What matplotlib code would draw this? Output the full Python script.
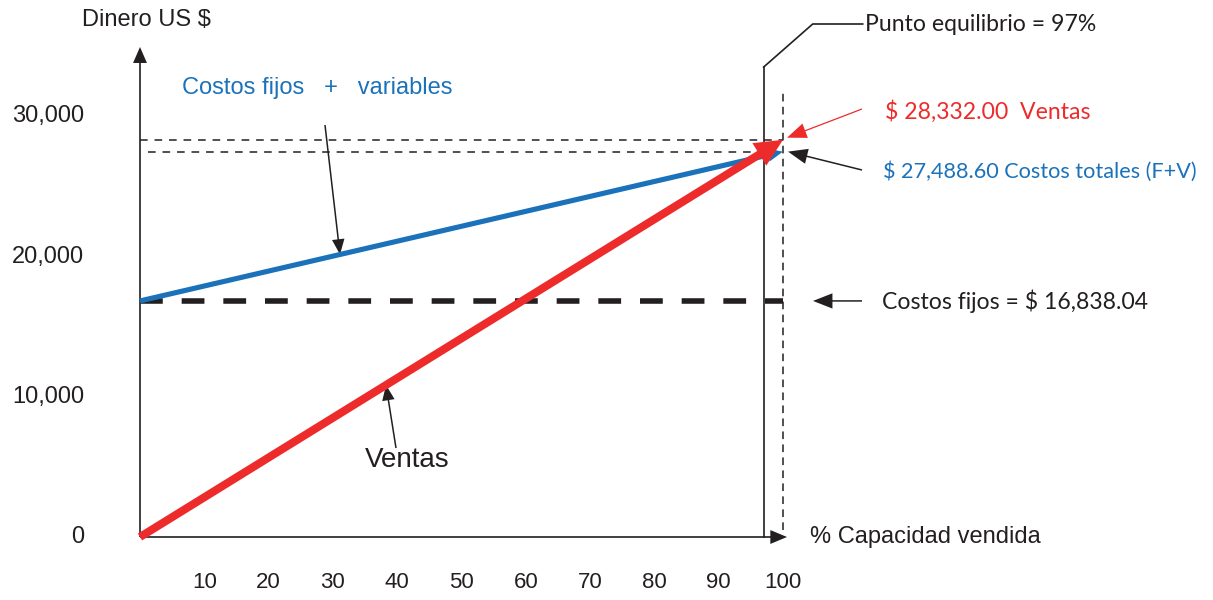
import numpy as np
import matplotlib
matplotlib.use("Agg")
import matplotlib.pyplot as plt
from matplotlib.patches import FancyArrowPatch

# ================= DATA =================
capacidad = [0, 100]                      # % capacidad vendida
ventas = [0.0, 28332.00]                  # US $
costos_totales = [16838.04, 27488.60]     # fijos + variables
costos_fijos = 16838.04
punto_equilibrio = 97                     # %

y_ticks = [0, 10000, 20000, 30000]
y_tick_labels = ["0", "10,000", "20,000", "30,000"]
x_ticks = [10, 20, 30, 40, 50, 60, 70, 80, 90, 100]

# ================= CANVAS =================
W, H = 1213, 600
X0, Y0 = 140, 537            # pixel position of the origin
PX_PCT = 6.43                # pixels per 1 %
PX_USD = 0.01402             # pixels per 1 $


def px(col):
    return (col - X0) / PX_PCT


def py(row):
    return (Y0 - row) / PX_USD


HELV = ["Liberation Sans", "DejaVu Sans"]
MYR = ["Lato", "DejaVu Sans"]
BLUE = "#1b72bb"
RED = "#ee2b2b"
BLACK = "#231f20"
FS_RIGHT = 16.6

fig = plt.figure(figsize=(W / 100, H / 100), dpi=100)
ax = fig.add_axes([0, 0, 1, 1])
ax.set_xlim(px(0), px(W))
ax.set_ylim(py(H), py(0))
ax.axis("off")


def arrow(p0, p1, color, tail, hw, hl, ms=10, z=3):
    ax.add_patch(FancyArrowPatch(
        p0, p1, arrowstyle=f"simple,head_length={hl},head_width={hw},tail_width={tail}",
        mutation_scale=ms, color=color, lw=0, shrinkA=0, shrinkB=0, zorder=z))


# ---- axes with arrow heads ----
arrow((0, 0), (0, py(47)), BLACK, 0.12, 1.0, 1.15)
arrow((0, 0), (px(787), 0), BLACK, 0.12, 1.0, 1.2)

# ---- reference dashed lines ----
ax.plot([0, capacidad[-1]], [ventas[-1]] * 2, color=BLACK, lw=1.1,
        dashes=(5, 4.5), zorder=1)
ax.plot([px(148), capacidad[-1]], [costos_totales[-1]] * 2, color=BLACK, lw=1.1,
        dashes=(5, 4.5), zorder=1)
ax.plot([capacidad[-1]] * 2, [py(530), py(92)], color=BLACK, lw=1.1,
        dashes=(5, 3.5), zorder=1)

# ---- fixed costs ----
ax.plot([0, capacidad[-1]], [costos_fijos] * 2, color=BLACK, lw=4,
        dashes=(4.1, 3.4), solid_capstyle="butt", zorder=2)

# ---- break-even marker + leader ----
ax.plot([punto_equilibrio] * 2, [0, py(67)], color=BLACK, lw=1.2, zorder=2)
be = X0 + punto_equilibrio * PX_PCT
ax.plot([punto_equilibrio, px(be + 49), px(be + 99)], [py(67), py(24), py(24)],
        color=BLACK, lw=1.2, zorder=2)
ax.text(px(865), py(25), "Punto equilibrio = 97%", family=MYR, fontsize=FS_RIGHT,
        color=BLACK, ha="left", va="center")

# ---- total costs and sales ----
arrow((capacidad[0], costos_totales[0]), (capacidad[-1], costos_totales[-1]),
      BLUE, 0.37, 0.95, 1.1, ms=10, z=4)
arrow((capacidad[0], ventas[0]), (capacidad[-1], ventas[-1]),
      RED, 0.29, 0.95, 1.0, ms=20, z=5)

# ---- tick labels ----
for v, lab in zip(y_ticks, y_tick_labels):
    ax.text(px(84), v, lab, family=HELV, fontsize=17, color=BLACK,
            ha="right", va="center")
for v in x_ticks:
    ax.text(v, py(583), str(v), family=HELV, fontsize=16, color=BLACK,
            ha="center", va="center")

ax.text(px(82), py(20), "Dinero US $", family=HELV, fontsize=17, color=BLACK,
        ha="left", va="center")
ax.text(px(810), py(537), "% Capacidad vendida", family=HELV, fontsize=17,
        color=BLACK, ha="left", va="center")

# ---- callouts on the lines ----
ax.text(px(182), py(88), "Costos fijos   +   variables", family=HELV, fontsize=17,
        color=BLUE, ha="left", va="center")
x_cv = px(340)
arrow((px(325), py(125)), (x_cv, np.interp(x_cv, capacidad, costos_totales)),
      BLACK, 0.11, 0.9, 1.1)

ax.text(px(407), py(460), "Ventas", family=HELV, fontsize=20, color=BLACK,
        ha="center", va="center")
x_v = px(386)
arrow((px(396), py(448)), (x_v, np.interp(x_v, capacidad, ventas)),
      BLACK, 0.11, 0.9, 1.1)

# ---- value labels on the right ----
ax.text(px(885), py(112), "$ 28,332.00  Ventas", family=MYR, fontsize=FS_RIGHT,
        color=RED, ha="left", va="center")
arrow((px(862), py(109)), (px(787), ventas[-1] + 150), RED, 0.09, 1.1, 1.4, z=6)

ax.text(px(883), py(172), "$ 27,488.60 Costos totales (F+V)", family=MYR,
        fontsize=15.6, color=BLUE, ha="left", va="center")
arrow((px(862), py(170)), (px(788), costos_totales[-1]), BLACK, 0.11, 1.1, 1.4, z=6)

ax.text(px(882), py(301), "Costos fijos = $ 16,838.04", family=MYR, fontsize=FS_RIGHT,
        color=BLACK, ha="left", va="center")
arrow((px(862), costos_fijos), (px(813), costos_fijos), BLACK, 0.11, 1.1, 1.4)

fig.savefig("out.png", dpi=100)
